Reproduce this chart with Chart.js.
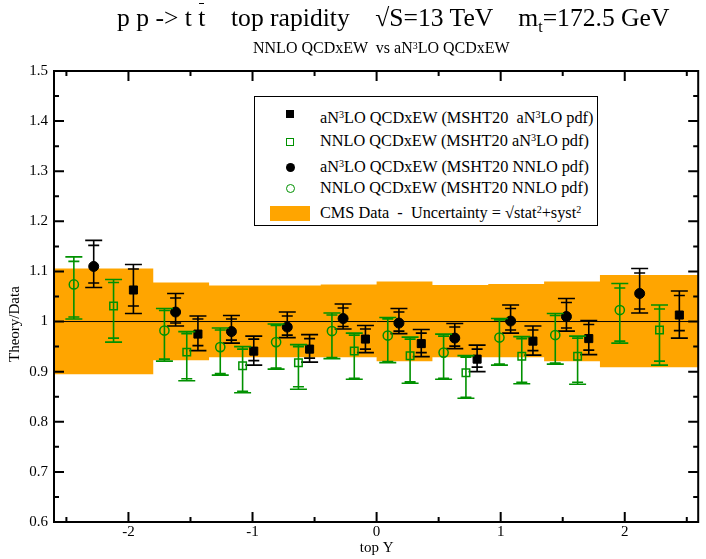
<!DOCTYPE html>
<html>
<head>
<meta charset="utf-8">
<title>top rapidity</title>
<script src="https://cdn.jsdelivr.net/npm/chart.js@4.4.1/dist/chart.umd.min.js"></script>
<style>
  html, body { margin: 0; padding: 0; background: #fff; overflow: hidden; }
  #wrap { position: relative; width: 706px; height: 559px; font-family: "Liberation Serif", "Times New Roman", serif; color: #000; }
  #plot { position: absolute; left: 0; top: 0; }
  .txt { position: absolute; white-space: pre; line-height: 1; }
  .title { font-size: 25.6px; left: 117px; top: 5px; }
  .subtitle { font-size: 16px; left: 253px; top: 40px; }
  sup.s { font-size: 62%; position: relative; top: -0.45em; vertical-align: baseline; }
  sub.s { font-size: 62%; position: relative; top: 0.4em; vertical-align: baseline; }
  .bar { display: inline-block; position: relative; }
  .bar::after { content: ""; position: absolute; left: 1px; right: 1px; top: -2px; border-top: 1px solid #000; }
  #legend { position: absolute; left: 254px; top: 96px; width: 342px; height: 128px; border: 1.5px solid #000; background: #fff; }
  #legend .row { position: absolute; left: 65px; font-size: 16.3px; }
  .mk { position: absolute; box-sizing: border-box; }
</style>
</head>
<body>
<div id="wrap">
  <canvas id="plot" width="706" height="559"></canvas>
  <div class="txt title">p p -&gt; t <span class="bar">t</span>    top rapidity    √S=13 TeV    m<sub class="s">t</sub>=172.5 GeV</div>
  <div class="txt subtitle">NNLO QCDxEW  vs aN<sup class="s">3</sup>LO QCDxEW</div>
  <div id="legend">
    <div class="mk" style="left:31px;top:13px;width:8px;height:8px;background:#000;"></div>
    <div class="txt row" style="top:13px;">aN<sup class="s">3</sup>LO QCDxEW (MSHT20  aN<sup class="s">3</sup>LO pdf)</div>
    <div class="mk" style="left:31px;top:41px;width:8px;height:8px;border:1.5px solid #009100;"></div>
    <div class="txt row" style="top:36px;">NNLO QCDxEW (MSHT20 aN<sup class="s">3</sup>LO pdf)</div>
    <div class="mk" style="left:31px;top:66px;width:9px;height:9px;border-radius:50%;background:#000;"></div>
    <div class="txt row" style="top:62px;">aN<sup class="s">3</sup>LO QCDxEW (MSHT20 NNLO pdf)</div>
    <div class="mk" style="left:31px;top:87px;width:9px;height:9px;border-radius:50%;border:1.5px solid #009100;"></div>
    <div class="txt row" style="top:83px;">NNLO QCDxEW (MSHT20 NNLO pdf)</div>
    <div class="mk" style="left:15px;top:109px;width:40px;height:15px;background:#ffa500;"></div>
    <div class="txt row" style="top:108px;">CMS Data  -  Uncertainty = √stat<sup class="s">2</sup>+syst<sup class="s">2</sup></div>
  </div>
</div>
<script>
// CMS rapidity bins and the data uncertainty band (ratio to data)
const binEdges = [-2.6, -1.8, -1.35, -0.9, -0.45, 0, 0.45, 0.9, 1.35, 1.8, 2.6];
const cmsUpper = [1.106, 1.078, 1.072, 1.072, 1.074, 1.080, 1.073, 1.075, 1.080, 1.093];
const cmsLower = [0.895, 0.923, 0.929, 0.929, 0.929, 0.921, 0.929, 0.929, 0.921, 0.909];

// aN3LO QCDxEW, MSHT20 aN3LO pdf (black squares)
const a3pdfA3 = [1.063, 0.975, 0.941, 0.945, 0.965, 0.956, 0.925, 0.961, 0.966, 1.013];
const a3pdfA3OuterHi = [1.114, 1.011, 0.971, 0.974, 0.992, 0.984, 0.953, 0.991, 1.002, 1.061];
const a3pdfA3InnerHi = [1.105, 1.005, 0.965, 0.966, 0.985, 0.977, 0.945, 0.983, 0.994, 1.052];
const a3pdfA3InnerLo = [1.031, 0.952, 0.922, 0.927, 0.945, 0.938, 0.909, 0.942, 0.943, 0.982];
const a3pdfA3OuterLo = [1.016, 0.942, 0.913, 0.919, 0.938, 0.930, 0.900, 0.933, 0.934, 0.967];

// NNLO QCDxEW, MSHT20 aN3LO pdf (open green squares)
const nnloPdfA3 = [1.031, 0.939, 0.912, 0.918, 0.941, 0.932, 0.898, 0.931, 0.931, 0.983];
const nnloPdfA3OuterHi = [1.084, 0.980, 0.950, 0.954, 0.977, 0.969, 0.932, 0.970, 0.971, 1.033];
const nnloPdfA3InnerHi = [1.078, 0.976, 0.945, 0.950, 0.973, 0.965, 0.929, 0.966, 0.967, 1.025];
const nnloPdfA3InnerLo = [0.967, 0.886, 0.861, 0.870, 0.887, 0.880, 0.849, 0.879, 0.879, 0.921];
const nnloPdfA3OuterLo = [0.959, 0.882, 0.858, 0.865, 0.885, 0.877, 0.847, 0.876, 0.875, 0.913];

// aN3LO QCDxEW, MSHT20 NNLO pdf (black circles)
const a3pdfNN = [1.110, 1.019, 0.980, 0.989, 1.006, 0.997, 0.967, 1.001, 1.010, 1.056];
const a3pdfNNOuterHi = [1.162, 1.056, 1.012, 1.019, 1.035, 1.026, 0.996, 1.033, 1.046, 1.106];
const a3pdfNNInnerHi = [1.152, 1.047, 1.005, 1.011, 1.027, 1.019, 0.989, 1.026, 1.038, 1.097];
const a3pdfNNInnerLo = [1.077, 0.997, 0.963, 0.973, 0.990, 0.981, 0.951, 0.983, 0.987, 1.025];
const a3pdfNNOuterLo = [1.068, 0.991, 0.957, 0.968, 0.985, 0.976, 0.946, 0.977, 0.981, 1.017];

// NNLO QCDxEW, MSHT20 NNLO pdf (open green circles)
const nnloPdfNN = [1.074, 0.982, 0.949, 0.959, 0.981, 0.972, 0.938, 0.968, 0.973, 1.023];
const nnloPdfNNOuterHi = [1.129, 1.026, 0.987, 0.995, 1.017, 1.008, 0.975, 1.006, 1.016, 1.076];
const nnloPdfNNInnerHi = [1.120, 1.022, 0.983, 0.992, 1.013, 1.005, 0.971, 1.003, 1.012, 1.067];
const nnloPdfNNInnerLo = [1.009, 0.925, 0.896, 0.907, 0.928, 0.920, 0.887, 0.915, 0.917, 0.961];
const nnloPdfNNOuterLo = [1.005, 0.921, 0.893, 0.905, 0.926, 0.918, 0.885, 0.913, 0.915, 0.957];

// axis ticks
const xTickValues = [-2, -1, 0, 1, 2];
const xMinorTicks = [-2.5, -1.5, -0.5, 0.5, 1.5, 2.5];
const yTickValues = [0.6, 0.7, 0.8, 0.9, 1.0, 1.1, 1.2, 1.3, 1.4, 1.5];
const yMinorTicks = [0.65, 0.75, 0.85, 0.95, 1.05, 1.15, 1.25, 1.35, 1.45];

const GREEN = '#009100';
const ORANGE = '#ffa500';
const FONT = '"Liberation Serif", "Times New Roman", serif';

// the four theory points sit at 1/5 .. 4/5 of each bin
function binSlot(k) {
    return binEdges.slice(0, -1).map((lo, i) => lo + (binEdges[i + 1] - lo) * k / 5);
}
function points(xs, ys) {
    return xs.map((x, i) => ({ x: x, y: ys[i] }));
}
// step outline for the band: one point per bin edge, last value repeated
function stepLine(vals) {
    return binEdges.map((x, i) => ({ x: x, y: vals[Math.min(i, vals.length - 1)] }));
}

// two nested error bars per point: wide caps outer, narrow caps inner
const errorBars = {
    id: 'errorBars',
    beforeDatasetDraw(chart, args) {
        const ds = chart.data.datasets[args.index];
        if (!ds.errors) return;
        const xs = chart.scales.x, ys = chart.scales.y;
        const ctx = chart.ctx;
        const e = ds.errors;
        ctx.save();
        ctx.strokeStyle = ds.borderColor;
        ctx.lineWidth = 1.6;
        ds.data.forEach((p, i) => {
            const px = xs.getPixelForValue(p.x);
            const oh = ys.getPixelForValue(e.outerHi[i]);
            const ol = ys.getPixelForValue(e.outerLo[i]);
            const ih = ys.getPixelForValue(e.innerHi[i]);
            const il = ys.getPixelForValue(e.innerLo[i]);
            ctx.beginPath();
            ctx.moveTo(px, oh);
            ctx.lineTo(px, ol);
            [[oh, 8.5], [ol, 8.5], [ih, 5.5], [il, 5.5]].forEach(([py, w]) => {
                ctx.moveTo(px - w, py);
                ctx.lineTo(px + w, py);
            });
            ctx.stroke();
        });
        ctx.restore();
    }
};

// frame with inward ticks on all four sides, plus the rotated y title
const frame = {
    id: 'frame',
    afterDraw(chart) {
        const { ctx, chartArea: a } = chart;
        const xs = chart.scales.x, ys = chart.scales.y;
        ctx.save();
        ctx.strokeStyle = '#000';
        ctx.lineWidth = 2;
        ctx.strokeRect(a.left, a.top, a.right - a.left - 1, a.bottom - a.top);
        ctx.beginPath();
        const xt = (v, len) => {
            const px = xs.getPixelForValue(v);
            ctx.moveTo(px, a.bottom); ctx.lineTo(px, a.bottom - len);
            ctx.moveTo(px, a.top); ctx.lineTo(px, a.top + len);
        };
        const yt = (v, len) => {
            const py = ys.getPixelForValue(v);
            ctx.moveTo(a.left, py); ctx.lineTo(a.left + len, py);
            ctx.moveTo(a.right - 1, py); ctx.lineTo(a.right - 1 - len, py);
        };
        xTickValues.forEach(v => xt(v, 10));
        xMinorTicks.forEach(v => xt(v, 5));
        yTickValues.forEach(v => yt(v, 10));
        yMinorTicks.forEach(v => yt(v, 5));
        ctx.stroke();

        ctx.translate(15, ys.getPixelForValue(0.995));
        ctx.rotate(-Math.PI / 2);
        ctx.fillStyle = '#000';
        ctx.font = '15px ' + FONT;
        ctx.textAlign = 'center';
        ctx.textBaseline = 'middle';
        ctx.fillText('Theory/Data', 0, 0);
        ctx.restore();
    }
};

const errs = (oh, ih, il, ol) => ({ outerHi: oh, innerHi: ih, innerLo: il, outerLo: ol });

new Chart(document.getElementById('plot'), {
    type: 'line',
    data: {
        datasets: [
            {
                label: 'NNLO QCDxEW (MSHT20 NNLO pdf)',
                data: points(binSlot(1), nnloPdfNN),
                showLine: false,
                pointStyle: 'circle',
                pointRadius: 4.6,
                pointBorderWidth: 1.5,
                borderColor: GREEN,
                pointBorderColor: GREEN,
                pointBackgroundColor: 'rgba(0,0,0,0)',
                errors: errs(nnloPdfNNOuterHi, nnloPdfNNInnerHi, nnloPdfNNInnerLo, nnloPdfNNOuterLo),
                order: 1
            },
            {
                label: 'aN3LO QCDxEW (MSHT20 NNLO pdf)',
                data: points(binSlot(2), a3pdfNN),
                showLine: false,
                pointStyle: 'circle',
                pointRadius: 5,
                pointBorderWidth: 1,
                borderColor: '#000',
                pointBorderColor: '#000',
                pointBackgroundColor: '#000',
                errors: errs(a3pdfNNOuterHi, a3pdfNNInnerHi, a3pdfNNInnerLo, a3pdfNNOuterLo),
                order: 2
            },
            {
                label: 'NNLO QCDxEW (MSHT20 aN3LO pdf)',
                data: points(binSlot(3), nnloPdfA3),
                showLine: false,
                pointStyle: 'rect',
                pointRadius: 5.3,
                pointBorderWidth: 1.5,
                borderColor: GREEN,
                pointBorderColor: GREEN,
                pointBackgroundColor: 'rgba(0,0,0,0)',
                errors: errs(nnloPdfA3OuterHi, nnloPdfA3InnerHi, nnloPdfA3InnerLo, nnloPdfA3OuterLo),
                order: 3
            },
            {
                label: 'aN3LO QCDxEW (MSHT20 aN3LO pdf)',
                data: points(binSlot(4), a3pdfA3),
                showLine: false,
                pointStyle: 'rect',
                pointRadius: 5.7,
                pointBorderWidth: 1,
                borderColor: '#000',
                pointBorderColor: '#000',
                pointBackgroundColor: '#000',
                errors: errs(a3pdfA3OuterHi, a3pdfA3InnerHi, a3pdfA3InnerLo, a3pdfA3OuterLo),
                order: 4
            },
            {
                label: 'ratio = 1',
                data: [{ x: binEdges[0], y: 1 }, { x: binEdges[binEdges.length - 1], y: 1 }],
                borderColor: '#000',
                borderWidth: 1,
                pointRadius: 0,
                order: 5
            },
            {
                label: 'CMS Data',
                data: stepLine(cmsUpper),
                stepped: 'before',
                borderWidth: 0,
                borderColor: ORANGE,
                backgroundColor: ORANGE,
                pointRadius: 0,
                fill: '+1',
                order: 6
            },
            {
                label: 'CMS Data (low)',
                data: stepLine(cmsLower),
                stepped: 'before',
                borderWidth: 0,
                borderColor: ORANGE,
                pointRadius: 0,
                fill: false,
                order: 7
            }
        ]
    },
    options: {
        responsive: false,
        animation: false,
        layout: { padding: { top: 71, left: 0, right: 0, bottom: 0 } },
        scales: {
            x: {
                type: 'linear',
                min: -2.6,
                max: 2.6,
                grid: { display: false, drawTicks: false },
                border: { display: false },
                afterBuildTicks: scale => { scale.ticks = xTickValues.map(v => ({ value: v })); },
                afterFit: scale => { scale.height = 37; },
                ticks: {
                    padding: 1,
                    color: '#000',
                    font: { family: FONT, size: 15 },
                    callback: v => String(v)
                },
                title: {
                    display: true,
                    text: 'top Y',
                    color: '#000',
                    font: { family: FONT, size: 15 },
                    padding: { top: 0, bottom: 2 }
                }
            },
            y: {
                type: 'linear',
                min: 0.6,
                max: 1.5,
                grid: { display: false, drawTicks: false },
                border: { display: false },
                afterBuildTicks: scale => { scale.ticks = yTickValues.map(v => ({ value: v })); },
                afterFit: scale => { scale.width = 54; },
                ticks: {
                    padding: 6,
                    color: '#000',
                    font: { family: FONT, size: 15 },
                    callback: v => String(Number(v.toFixed(1)))
                },
                title: { display: false }
            }
        },
        plugins: {
            legend: { display: false },
            tooltip: { enabled: false },
            filler: { propagate: false }
        }
    },
    plugins: [errorBars, frame]
});
</script>
</body>
</html>
